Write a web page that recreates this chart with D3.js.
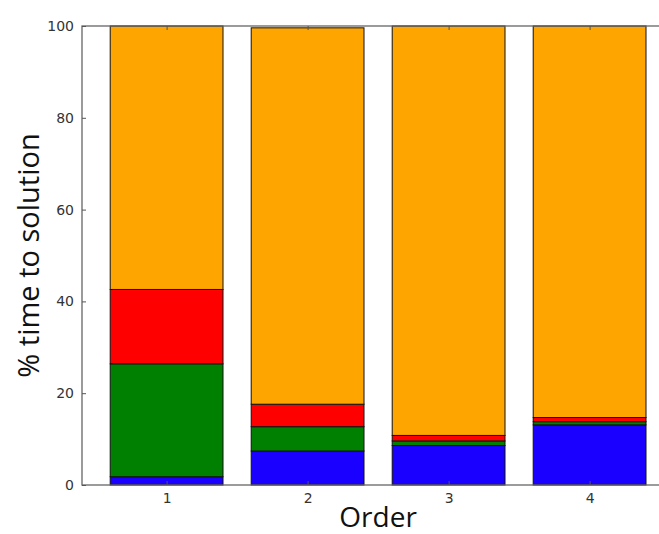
<!DOCTYPE html>
<html>
<head>
<meta charset="utf-8">
<script src="https://cdn.jsdelivr.net/npm/d3@7"></script>
<style>
  html, body { margin: 0; padding: 0; background: #fff; }
  svg { display: block; }
</style>
</head>
<body>
<svg id="chart" width="659" height="534"></svg>
<script>
// Data
const categories = [1, 2, 3, 4];
const seriesNames = ["blue", "green", "red", "orange"];
const blueVals   = [1.8, 7.4, 8.6, 13.1];
const greenVals  = [24.6, 5.3, 1.0, 0.7];
const redVals    = [16.2, 4.9, 1.2, 0.9];
const orangeVals = [57.4, 82.0, 89.2, 85.3];
const yTicks = [0, 20, 40, 60, 80, 100];
const seriesColors = ["#1a00ff", "#008000", "#ff0000", "#ffa500"];

const svg = d3.select("#chart");
const mLeft = 82, mRight = 674.2, mTop = 26, mBottom = 485;

const x = d3.scaleLinear().domain([0.4, 4.6]).range([mLeft, mRight]);
const y = d3.scaleLinear().domain([0, 100]).range([mBottom, mTop]);

const table = categories.map((c, i) => ({
  cat: c,
  blue: blueVals[i], green: greenVals[i], red: redVals[i], orange: orangeVals[i]
}));
const stacked = d3.stack().keys(seriesNames)(table);

const barW = 0.8;
svg.append("g").selectAll("g")
  .data(stacked)
  .join("g")
  .attr("fill", (d, i) => seriesColors[i])
  .selectAll("rect")
  .data(d => d)
  .join("rect")
  .attr("x", d => x(d.data.cat - barW / 2))
  .attr("width", d => x(d.data.cat + barW / 2) - x(d.data.cat - barW / 2))
  .attr("y", d => y(d[1]))
  .attr("height", d => y(d[0]) - y(d[1]))
  .attr("stroke", "#111")
  .attr("stroke-width", 1);

// Frame
const frame = svg.append("g").attr("fill", "none").attr("stroke", "#666").attr("stroke-width", 1.3);
frame.append("rect").attr("x", mLeft).attr("y", mTop).attr("width", mRight - mLeft).attr("height", mBottom - mTop);

// Y axis ticks (inward) and labels
const yAxis = d3.axisLeft(y).tickValues(yTicks).tickSizeInner(-4).tickSizeOuter(0).tickPadding(8);
const gy = svg.append("g").attr("transform", `translate(${mLeft},0)`).call(yAxis);
gy.select(".domain").remove();
gy.selectAll("line").attr("stroke", "#555");
gy.selectAll("text").attr("font-family", "DejaVu Sans, sans-serif").attr("font-size", 14).attr("fill", "#333");

// X axis ticks (inward) and labels
const xAxis = d3.axisBottom(x).tickValues(categories).tickFormat(d3.format("d")).tickSizeInner(-4).tickSizeOuter(0).tickPadding(8);
const gx = svg.append("g").attr("transform", `translate(0,${mBottom})`).call(xAxis);
gx.select(".domain").remove();
gx.selectAll("line").attr("stroke", "#555");
gx.selectAll("text").attr("font-family", "DejaVu Sans, sans-serif").attr("font-size", 14).attr("fill", "#333");

// Top ticks (inward)
const xTop = d3.axisTop(x).tickValues(categories).tickSizeInner(-4).tickSizeOuter(0).tickFormat("");
const gt = svg.append("g").attr("transform", `translate(0,${mTop})`).call(xTop);
gt.select(".domain").remove();
gt.selectAll("line").attr("stroke", "#555");

// Axis titles
svg.append("text")
  .attr("x", x(2.5)).attr("y", 527)
  .attr("text-anchor", "middle")
  .attr("font-family", "Open Sans, sans-serif").attr("font-size", 28).attr("fill", "#111")
  .text("Order");

svg.append("text")
  .attr("transform", `translate(39,${(mTop + mBottom) / 2}) rotate(-90)`)
  .attr("text-anchor", "middle")
  .attr("font-family", "Open Sans, sans-serif").attr("font-size", 29).attr("fill", "#111")
  .text("% time to solution");
</script>
</body>
</html>
